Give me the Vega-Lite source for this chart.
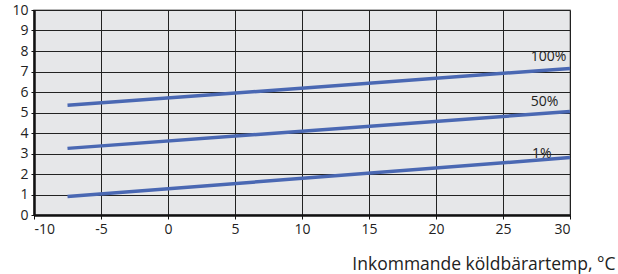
{
  "$schema": "https://vega.github.io/schema/vega-lite/v6.json",
  "width": 536,
  "height": 205,
  "autosize": {"type": "none"},
  "padding": {"left": 34, "top": 10, "right": 48, "bottom": 59},
  "background": "white",
  "config": {
    "view": {"fill": "#e6e7e9", "stroke": "#a0a0a0", "strokeWidth": 1.5},
    "font": "Open Sans"
  },
  "datasets": {
    "lines": [
      {"temp": -7.5, "val": 5.35, "s": "100%"},
      {"temp": 30, "val": 7.15, "s": "100%"},
      {"temp": -7.5, "val": 3.25, "s": "50%"},
      {"temp": 30, "val": 5.05, "s": "50%"},
      {"temp": -7.5, "val": 0.9, "s": "1%"},
      {"temp": 30, "val": 2.8, "s": "1%"}
    ],
    "labels": [
      {"temp": 28.4, "val": 7.7, "s": "100%"},
      {"temp": 28.1, "val": 5.5, "s": "50%"},
      {"temp": 27.9, "val": 3.0, "s": "1%"}
    ]
  },
  "encoding": {
    "x": {
      "field": "temp", "type": "quantitative",
      "scale": {"domain": [-10, 30], "nice": false},
      "axis": {
        "values": [-10, -5, 0, 5, 10, 15, 20, 25, 30],
        "tickCount": 20,
        "format": "d",
        "labelExpr": "replace(datum.label, '−', '-')",
        "labelOverlap": false,
        "gridColor": "#222", "gridOpacity": 1, "gridWidth": 1,
        "domainColor": "#111", "domainWidth": 2.5,
        "tickColor": "#111", "tickSize": 4,
        "labelFontSize": 14, "labelColor": "#222", "labelPadding": 3,
        "title": "Inkommande köldbärartemp, °C",
        "titleFontSize": 17.5, "titleFontWeight": "normal", "titleColor": "#222",
        "titleAnchor": "end", "titleAlign": "right",
        "titleX": 581, "titleY": 54, "titleBaseline": "alphabetic"
      }
    },
    "y": {
      "field": "val", "type": "quantitative",
      "scale": {"domain": [0, 10], "nice": false},
      "axis": {
        "values": [0, 1, 2, 3, 4, 5, 6, 7, 8, 9, 10],
        "tickCount": 20,
        "format": "d",
        "labelOverlap": false,
        "gridColor": "#222", "gridOpacity": 1, "gridWidth": 1,
        "domainColor": "#111", "domainWidth": 2.5,
        "tickColor": "#111", "tickSize": 3,
        "labelFontSize": 14, "labelColor": "#222", "labelPadding": 3,
        "title": null
      }
    }
  },
  "layer": [
    {
      "data": {"name": "lines"},
      "mark": {"type": "line", "color": "#4a68b3", "strokeWidth": 3.5},
      "encoding": {
        "detail": {"field": "s"}
      }
    },
    {
      "data": {"name": "labels"},
      "mark": {"type": "text", "fontSize": 14, "color": "#222"},
      "encoding": {
        "text": {"field": "s"}
      }
    }
  ]
}
